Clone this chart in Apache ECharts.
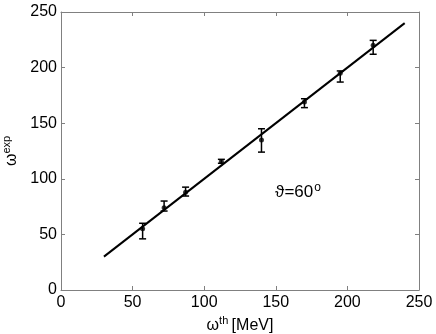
<!DOCTYPE html>
<html>
<head>
<meta charset="utf-8">
<script src="https://cdn.jsdelivr.net/npm/echarts@6/dist/echarts.min.js"></script>
<style>
  html, body { margin: 0; padding: 0; background: #fff; }
  #chart { width: 436px; height: 334px; }
</style>
</head>
<body>
<div id="chart"></div>
<script>
const omegaTh = [57, 72, 87, 112, 140, 170, 195, 218];
const omegaExp = [55, 74, 88, 115.5, 135, 169, 195, 220];
const errLow = [46, 71, 84.5, 114, 124, 164, 187, 212];
const errHigh = [60, 80, 92.5, 117.5, 145, 172, 197, 224.5];

// straight line omega_exp = omega_th
const fitX = [30, 240];
const fitY = [30, 240];

const xTicks = [0, 50, 100, 150, 200, 250];
const yTicks = [0, 50, 100, 150, 200, 250];

const labelPos = [149.5, 88];
const labelText = 'ϑ=60';

const chart = echarts.init(document.getElementById('chart'));

const font = 'Liberation Sans, Arial, Helvetica, sans-serif';
const axisGrey = '#808080';

const baseAxis = {
  min: xTicks[0],
  max: xTicks[xTicks.length - 1],
  interval: 50,
  splitLine: { show: false },
  axisLine: { show: true, onZero: false, lineStyle: { color: axisGrey, width: 1 } },
  axisTick: { show: true, inside: true, length: 4, lineStyle: { color: axisGrey } },
};

const nameRich = {
  w: { fontSize: 16, color: '#000', fontFamily: font },
  sup: { fontSize: 11, color: '#000', fontFamily: font, verticalAlign: 'top', padding: [0, 0, 9, 0] },
};

const option = {
  animation: false,
  grid: { left: 61, right: 17, top: 12, bottom: 44, containLabel: false, outerBoundsMode: 'none' },
  xAxis: [
    Object.assign({}, baseAxis, {
      type: 'value',
      position: 'bottom',
      axisLabel: { color: '#000', fontSize: 16, fontFamily: font, margin: 5 },
      name: '{w|ω}{sup|th} {w|[MeV]}',
      nameLocation: 'middle',
      nameGap: 25,
      nameTextStyle: { fontFamily: font, rich: nameRich },
    }),
    Object.assign({}, baseAxis, {
      type: 'value',
      position: 'top',
      axisLabel: { show: false },
    }),
  ],
  yAxis: [
    Object.assign({}, baseAxis, {
      type: 'value',
      position: 'left',
      min: yTicks[0],
      max: yTicks[yTicks.length - 1],
      axisLabel: { color: '#000', fontSize: 16, fontFamily: font, margin: 4 },
      name: '{w|ω}{sup|exp}',
      nameLocation: 'middle',
      nameRotate: 90,
      nameGap: 35,
      nameTextStyle: { fontFamily: font, rich: nameRich },
    }),
    Object.assign({}, baseAxis, {
      type: 'value',
      position: 'right',
      min: yTicks[0],
      max: yTicks[yTicks.length - 1],
      axisLabel: { show: false },
    }),
  ],
  series: [
    {
      type: 'line',
      data: fitX.map((x, i) => [x, fitY[i]]),
      showSymbol: false,
      lineStyle: { color: '#000', width: 2 },
      z: 2,
    },
    {
      type: 'custom',
      data: omegaTh.map((x, i) => [x, errLow[i], errHigh[i]]),
      renderItem: function (params, api) {
        const x = api.value(0);
        const lo = api.coord([x, api.value(1)]);
        const hi = api.coord([x, api.value(2)]);
        const cap = 3.5;
        const style = { stroke: '#000', lineWidth: 1.5 };
        return {
          type: 'group',
          children: [
            { type: 'line', shape: { x1: lo[0], y1: lo[1], x2: hi[0], y2: hi[1] }, style: style },
            { type: 'line', shape: { x1: lo[0] - cap, y1: lo[1], x2: lo[0] + cap, y2: lo[1] }, style: style },
            { type: 'line', shape: { x1: hi[0] - cap, y1: hi[1], x2: hi[0] + cap, y2: hi[1] }, style: style },
          ],
        };
      },
      z: 3,
    },
    {
      type: 'scatter',
      data: omegaTh.map((x, i) => [x, omegaExp[i]]),
      symbol: 'circle',
      symbolSize: 5,
      itemStyle: { color: '#000' },
      z: 4,
    },
    {
      type: 'scatter',
      data: [labelPos],
      symbolSize: 0,
      silent: true,
      itemStyle: { color: '#000', opacity: 1 },
      label: {
        show: true,
        position: 'right',
        distance: 0,
        color: '#000',
        formatter: '{t|' + labelText + '}{sup|o}',
        rich: {
          t: { fontSize: 17, color: '#000', fontFamily: font },
          sup: { fontSize: 12, color: '#000', fontFamily: font, verticalAlign: 'top', padding: [0, 0, 9, 1] },
        },
      },
    },
  ],
};

chart.setOption(option);
</script>
</body>
</html>
